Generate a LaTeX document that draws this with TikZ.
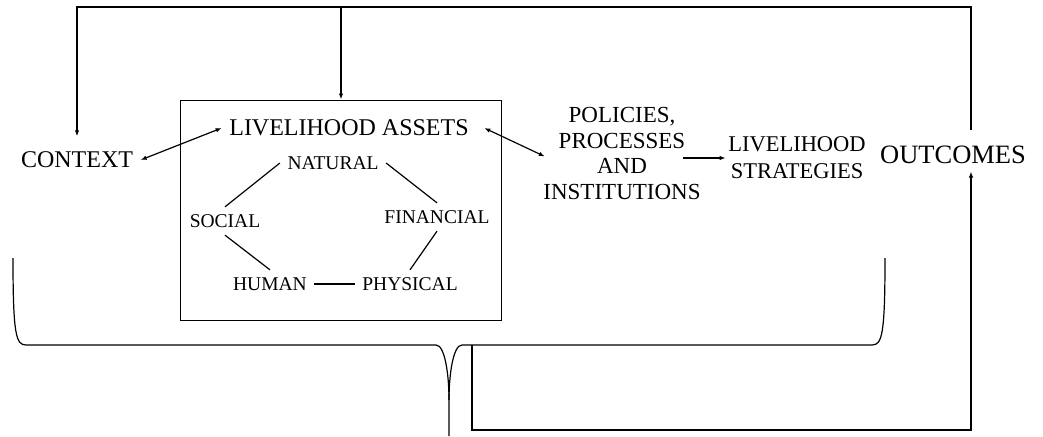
\documentclass[tikz,border=0pt]{standalone}
\usepackage{fontspec}
\setmainfont{Liberation Serif}
\usetikzlibrary{arrows.meta}

\begin{document}
\begin{tikzpicture}[x=1pt, y=-1pt, line width=1.2pt,
        >={Latex[length=6pt,width=4.5pt]},
        big/.style={font=\fontsize{24}{25.7}\selectfont, inner sep=7pt, align=center},
        small/.style={font=\fontsize{19.5}{21}\selectfont, inner sep=7pt}]
        \useasboundingbox (0,0) rectangle (1043,436);

        % Main blocks
        \node[big] (context) at (77,160) {CONTEXT};
        \node[draw, line width=1pt, minimum width=321, minimum height=220] (assetbox) at (341,210) {};
        \node[big] (assets) at (349,128) {LIVELIHOOD ASSETS};
        \node[big, inner sep=3pt, font=\fontsize{23}{25.7}\selectfont] (policies) at (622,153.5) {POLICIES,\\PROCESSES\\AND\\INSTITUTIONS};
        \node[big, inner sep=2pt, font=\fontsize{22.5}{27}\selectfont] (strategies) at (797,158) {LIVELIHOOD\\STRATEGIES};
        \node[big, font=\fontsize{26.5}{28}\selectfont] (outcomes) at (953,155) {OUTCOMES};

        % The five capitals
        \node[small] (natural) at (333,163) {NATURAL};
        \node[small] (social) at (225,221) {SOCIAL};
        \node[small] (financial) at (437,217) {FINANCIAL};
        \node[small] (human) at (270,284) {HUMAN};
        \node[small] (physical) at (410,284) {PHYSICAL};

        \draw (natural.west) -- (social.north);
        \draw (natural.east) -- (financial.north);
        \draw (social.south) -- (human.north);
        \draw (financial.south) -- (physical.north);
        \draw (human.east) -- (physical.west);

        % Arrows between blocks
        \draw[<->] (context.east) -- (assets.west);
        \draw[<->] ([xshift=8pt]assets.east) -- ([xshift=5pt,yshift=-3pt]policies.west);
        \draw[->] ([xshift=-21pt,yshift=-4.5pt]policies.east) -- (strategies.west);

        % Feedback along the top
        \coordinate (loopR) at (971,7);
        \coordinate (loopL) at (77,7);
        \draw[->] ([xshift=18pt,yshift=8pt]outcomes.north) -- (loopR) -- (loopL) -- ([yshift=8pt]context.north);
        \draw[->] (assetbox.north |- loopL) -- (assetbox.north);

        % Brace under the framework
        \draw (13,258) .. controls (13,335) and (16,345) .. (26,345) -- (436,345)
            .. controls (445,345) and (449,375) .. (449,400) -- (449,436);
        \draw (885,258) .. controls (885,335) and (882,345) .. (872,345) -- (462,345)
            .. controls (453,345) and (449,375) .. (449,400);

        % Route from the brace up to the outcomes
        \coordinate (route) at (472,345);
        \coordinate (routeB) at (971,430);
        \draw[->] (route) |- (routeB) -- ([xshift=18pt]outcomes.south);
    \end{tikzpicture}
\end{document}
